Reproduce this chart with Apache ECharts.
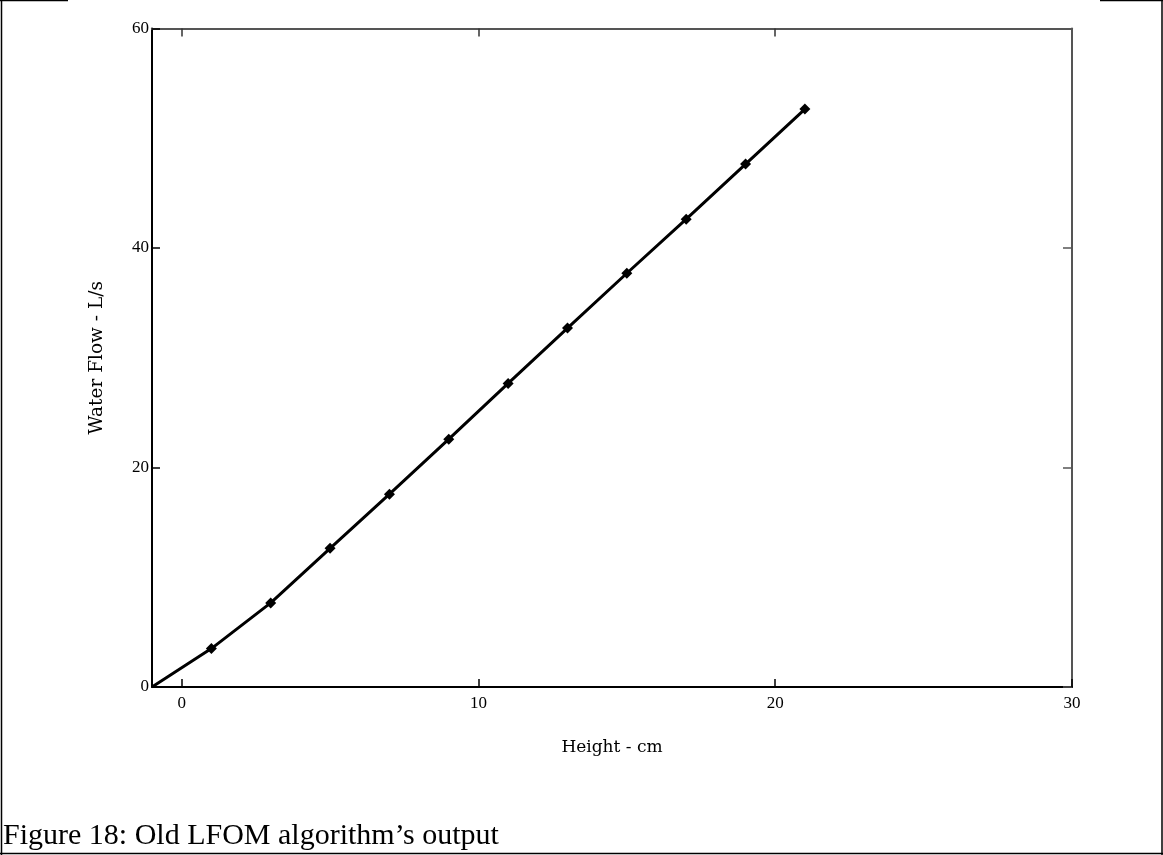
<!DOCTYPE html>
<html>
<head>
<meta charset="utf-8">
<script src="https://cdn.jsdelivr.net/npm/echarts@6/dist/echarts.min.js"></script>
<style>
html,body{margin:0;padding:0;background:#fff;}
#chart{width:1163px;height:855px;}
</style>
</head>
<body>
<div id="chart"></div>
<script>
// Data
const heightCm = [-1, 1, 3, 5, 7, 9, 11, 13, 15, 17, 19, 21];
const flowLs   = [0, 3.5, 7.66, 12.64, 17.57, 22.58, 27.66, 32.7, 37.7, 42.63, 47.65, 52.66];
const xTicks = [0, 10, 20, 30];
const yTicks = [0, 20, 40, 60];
const xTitle = 'Height - cm';
const yTitle = 'Water Flow - L/s';
const caption = 'Figure 18: Old LFOM algorithm\u2019s output';

const chart = echarts.init(document.getElementById('chart'), null, {renderer: 'canvas'});
const pts = heightCm.map((x, i) => [x, flowLs[i]]);
const tickFont = {fontFamily: 'Liberation Serif', fontSize: 17, color: '#000'};

chart.setOption({
  animation: false,
  backgroundColor: '#fff',
  grid: {left: 152, top: 28.5, right: 91, bottom: 168, show: false},
  xAxis: [{
    type: 'value', min: -1, max: 30, position: 'bottom',
    name: xTitle, nameLocation: 'middle', nameGap: 52,
    nameTextStyle: {fontFamily: 'DejaVu Serif', fontSize: 17, color: '#000'},
    axisLine: {show: true, onZero: false, lineStyle: {color: '#000', width: 2}},
    axisTick: {show: true, inside: true, length: 8, customValues: xTicks, lineStyle: {color: '#000', width: 1.5}},
    axisLabel: {show: true, customValues: xTicks, margin: 8, ...tickFont},
    splitLine: {show: false}
  }, {
    type: 'value', min: -1, max: 30, position: 'top',
    axisLine: {show: true, onZero: false, lineStyle: {color: '#555', width: 2}},
    axisTick: {show: true, inside: true, length: 8, customValues: xTicks.slice(0, 3), lineStyle: {color: '#333', width: 1.5}},
    axisLabel: {show: false},
    splitLine: {show: false}
  }],
  yAxis: [{
    type: 'value', min: 0, max: 60, interval: 20, position: 'left',
    name: yTitle, nameLocation: 'middle', nameGap: 45, nameRotate: 90,
    nameTextStyle: {fontFamily: 'DejaVu Serif', fontSize: 18.5, color: '#000'},
    axisLine: {show: true, onZero: false, lineStyle: {color: '#000', width: 2}},
    axisTick: {show: true, inside: true, length: 8, customValues: yTicks, lineStyle: {color: '#000', width: 1.5}},
    axisLabel: {show: true, margin: 3, customValues: yTicks, ...tickFont},
    splitLine: {show: false}
  }, {
    type: 'value', min: 0, max: 60, interval: 20, position: 'right',
    axisLine: {show: true, onZero: false, lineStyle: {color: '#555', width: 2}},
    axisTick: {show: true, inside: true, length: 9, lineStyle: {color: '#555', width: 1.5}},
    axisLabel: {show: false},
    splitLine: {show: false}
  }],
  series: [{
    type: 'line',
    data: pts,
    xAxisIndex: 0, yAxisIndex: 0,
    smooth: false,
    symbol: 'diamond',
    symbolSize: (v) => (v[0] < 0 ? 0 : 11),
    showAllSymbol: true,
    lineStyle: {color: '#000', width: 3},
    itemStyle: {color: '#000', borderWidth: 0}
  }],
  graphic: [
    {type: 'line', shape: {x1: 0, y1: 0.5, x2: 68, y2: 0.5}, style: {stroke: '#000', lineWidth: 1.5}},
    {type: 'line', shape: {x1: 1100, y1: 0.5, x2: 1163, y2: 0.5}, style: {stroke: '#000', lineWidth: 1.5}},
    {type: 'line', shape: {x1: 1.5, y1: 0, x2: 1.5, y2: 855}, style: {stroke: '#000', lineWidth: 1.5}},
    {type: 'line', shape: {x1: 1162, y1: 0, x2: 1162, y2: 855}, style: {stroke: '#000', lineWidth: 1.5}},
    {type: 'line', shape: {x1: 0, y1: 853.5, x2: 1163, y2: 853.5}, style: {stroke: '#000', lineWidth: 1.5}},
    {type: 'text', left: 3, top: 821, style: {text: caption, fontFamily: 'Liberation Serif', fontSize: 30, fill: '#000'}}
  ]
});
</script>
</body>
</html>
